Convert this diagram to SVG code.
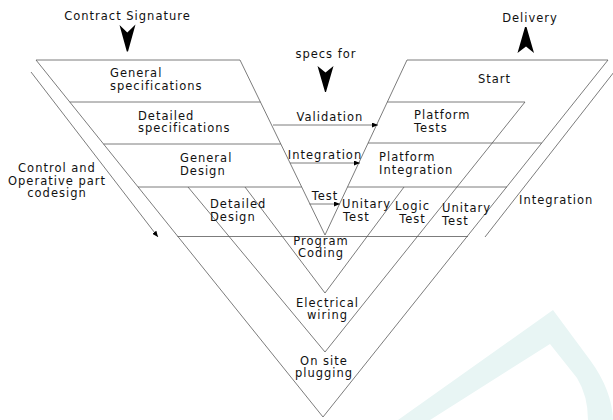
<svg xmlns="http://www.w3.org/2000/svg" width="613" height="420" viewBox="0 0 613 420">
<defs>
<style>
.ln{fill:none;stroke:#5a5a5a;stroke-width:0.8}
.t{font-family:"DejaVu Sans","Liberation Sans",sans-serif;font-size:11.5px;letter-spacing:1px;fill:#111}
.m{text-anchor:middle}
.big{fill:#000}
</style>
<marker id="ah" markerUnits="userSpaceOnUse" markerWidth="6" markerHeight="5" refX="6" refY="2.5" orient="auto">
<path d="M0,0 L6,2.5 L0,5 Z" fill="#000"/>
</marker>
</defs>
<rect width="613" height="420" fill="#fff"/>
<path id="watermark" d="M398,420 L553,310 L590,360 Q612,390 613,420 L588,420 Q588,396 577,378 L550,344 L430,420 Z" fill="#e8f5f4"/>

<g id="frame" class="ln">
<polyline points="36,60 323,417 608,60"/>
<line x1="36" y1="60" x2="240" y2="60"/>
<line x1="407" y1="60" x2="608" y2="60"/>
<polyline points="240,60 325,235 407,60"/>
<line x1="69.8" y1="102" x2="260.4" y2="102"/>
<line x1="103.5" y1="144" x2="280.8" y2="144"/>
<line x1="138" y1="187" x2="301.7" y2="187"/>
<line x1="387.3" y1="102" x2="525" y2="102"/>
<line x1="368" y1="143" x2="541.7" y2="143"/>
<line x1="347.5" y1="187" x2="507" y2="187"/>
<line x1="177.5" y1="236.5" x2="468" y2="236.5"/>
<polyline points="188,187 325,352 525,102"/>
<polyline points="245,187 325,293 404,187"/>
</g>

<g id="events">
<g id="contract-signature">
<text class="t m" x="127.5" y="20">Contract Signature</text>
<path class="big" d="M119.5,25 L127.3,32.5 L135.5,24.5 L128,51.5 L126.8,51.5 Z"/>
</g>
<g id="specs-for">
<text class="t m" x="326" y="58">specs for</text>
<path class="big" d="M317.5,66 L325.5,72.5 L333.5,66 L326,92 L325,92 Z"/>
</g>
<g id="delivery">
<text class="t m" x="530" y="22">Delivery</text>
<path class="big" d="M525,27 L526.5,27 L534,53 L526,46.5 L517.5,53 Z"/>
</g>
</g>

<g id="general-specifications"><text class="t" x="110" y="77">General</text><text class="t" x="110" y="89.5">specifications</text></g>
<g id="detailed-specifications"><text class="t" x="138" y="119.5">Detailed</text><text class="t" x="138" y="131.5">specifications</text></g>
<g id="general-design"><text class="t" x="180" y="162">General</text><text class="t" x="180" y="174.5">Design</text></g>
<g id="detailed-design"><text class="t" x="210" y="208">Detailed</text><text class="t" x="210" y="220.5">Design</text></g>
<g id="program-coding"><text class="t m" x="321" y="245">Program</text><text class="t m" x="321" y="257">Coding</text></g>
<g id="electrical-wiring"><text class="t m" x="327.5" y="307">Electrical</text><text class="t m" x="327.5" y="319">wiring</text></g>
<g id="on-site-plugging"><text class="t m" x="324" y="365">On site</text><text class="t m" x="324" y="377">plugging</text></g>
<g id="unitary-test-1"><text class="t" x="342" y="208">Unitary</text><text class="t" x="343" y="220.5">Test</text></g>
<g id="logic-test"><text class="t m" x="412.5" y="209.5">Logic</text><text class="t m" x="412.5" y="222.5">Test</text></g>
<g id="unitary-test-2"><text class="t" x="442" y="212">Unitary</text><text class="t" x="442" y="225">Test</text></g>
<g id="platform-integration"><text class="t" x="379" y="161">Platform</text><text class="t" x="379" y="174">Integration</text></g>
<g id="platform-tests"><text class="t" x="414" y="118.5">Platform</text><text class="t" x="414" y="131.5">Tests</text></g>
<g id="start"><text class="t" x="478" y="82.5">Start</text></g>
<g id="codesign-label"><text class="t m" x="57" y="172">Control and</text><text class="t m" x="57" y="184.5">Operative part</text><text class="t m" x="57" y="197">codesign</text></g>
<g id="integration-label"><text class="t" x="519" y="204">Integration</text></g>

<g id="connectors">
<line class="ln" x1="273" y1="125" x2="378" y2="125" marker-end="url(#ah)"/>
<line class="ln" x1="290" y1="163" x2="360" y2="163" marker-end="url(#ah)"/>
<line class="ln" x1="309.5" y1="204" x2="340" y2="204" marker-end="url(#ah)"/>
<line class="ln" x1="31" y1="72" x2="158" y2="237" marker-end="url(#ah)"/>
<line class="ln" x1="614" y1="72" x2="485" y2="237"/>
<text class="t m" x="330" y="121">Validation</text>
<text class="t m" x="325" y="158.5">Integration</text>
<text class="t m" x="325" y="199.5">Test</text>
</g>
</svg>
